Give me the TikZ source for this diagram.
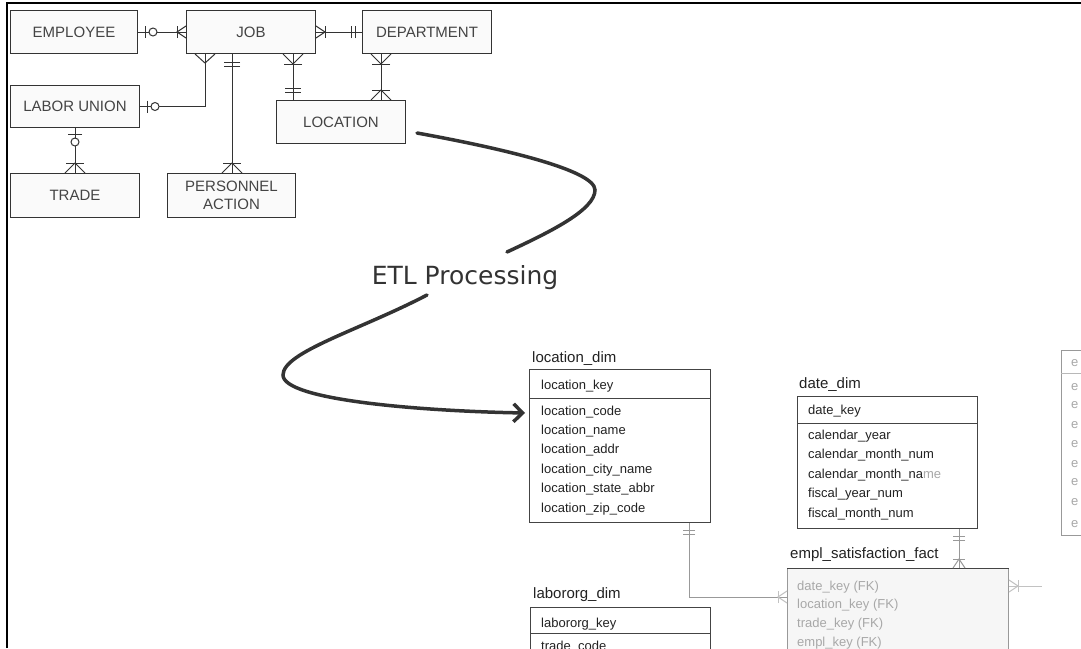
\documentclass[tikz,border=0pt]{standalone}
\usepackage{fontspec}
\setmainfont{Liberation Sans}
\newfontfamily\etlfont{DejaVu Sans}
\usetikzlibrary{arrows.meta,calc}
\definecolor{erline}{HTML}{333333}
\definecolor{ertext}{HTML}{444444}
\definecolor{erfill}{HTML}{FAFAFA}
\definecolor{dimline}{HTML}{444444}
\definecolor{dimtext}{HTML}{222222}
\definecolor{fadeline}{HTML}{999999}
\definecolor{fadetext}{HTML}{A8A8A8}
\definecolor{fadefill}{HTML}{F6F6F6}
\definecolor{etlcol}{HTML}{333333}
\tikzset{
  erbox/.style={draw=erline, fill=erfill, line width=1pt, anchor=north west, inner sep=0pt,
    text=ertext, font=\fontsize{15}{19}\selectfont, align=center},
  erl/.style={color=erline, line width=1pt},
  grl/.style={color=fadeline, line width=1pt},
  fal/.style={color=fadeline!60, line width=1pt},
  crowbar/.pic={\draw (0,-6)--(9,0)--(0,6); \draw (9,-6)--(9,6);},
  crowbarwide/.pic={\draw (0,-10)--(10,0)--(0,10); \draw (10,-9)--(10,9);},
  crowonly/.pic={\draw (0,-10)--(9,0)--(0,10);},
  onebar/.pic={\draw (7,-6)--(7,6); \draw (11,-6)--(11,6);},
  onebarwide/.pic={\draw (8,-8)--(8,8); \draw (12,-8)--(12,8);},
  zeroone/.pic={\draw (7,-6)--(7,6); \draw[fill=white] (15,0) circle[radius=4pt];},
  zeroonewide/.pic={\draw (6,-7)--(6,7); \draw[fill=white] (14,0) circle[radius=4pt];},
  dimbox/.style={draw=dimline, fill=white, line width=1pt, anchor=north west, inner sep=0pt},
  fadebox/.style={draw=fadeline, fill=fadefill, line width=1pt, anchor=north west, inner sep=0pt},
  dimtitle/.style={anchor=base west, inner sep=0pt, text=dimtext, font=\fontsize{15}{18}\selectfont},
  rowtxt/.style={anchor=base west, inner sep=0pt, text=dimtext, font=\fontsize{13}{15}\selectfont},
  fadetxt/.style={anchor=base west, inner sep=0pt, text=fadetext, font=\fontsize{13}{15}\selectfont},
  etl/.style={color=etlcol, line width=3.5pt, line cap=round},
}
\begin{document}
\begin{tikzpicture}[x=1pt,y=-1pt]
\useasboundingbox (0,0) rectangle (1081,648);
\clip (0,0) rectangle (1081,648);
\fill[white] (0,0) rectangle (1081,648);

% frame
\draw[line width=2pt, black] (7,648) -- (7,3) -- (1081,3);

% ER entities
\node[erbox, minimum width=127pt, minimum height=43pt] (emp) at (10,10) {EMPLOYEE};
\node[erbox, minimum width=129pt, minimum height=43pt] (job) at (186,10) {JOB};
\node[erbox, minimum width=129pt, minimum height=43pt] (dept) at (362,10) {DEPARTMENT};
\node[erbox, minimum width=129pt, minimum height=42pt] (lu) at (10,85) {LABOR UNION};
\node[erbox, minimum width=129pt, minimum height=44pt] (trade) at (10,173) {TRADE};
\node[erbox, minimum width=128pt, minimum height=44pt] (pa) at (167,173) {PERSONNEL\\[-1pt]ACTION};
\node[erbox, minimum width=129pt, minimum height=43pt] (loc) at (276,100) {LOCATION};

% ER relationships
\draw[erl] (emp.east) -- (job.west);
\pic[erl] at (emp.east) {zeroone};
\pic[erl, rotate=180] at (job.west) {crowbar};

\draw[erl] (job.east) -- (dept.west);
\pic[erl] at (job.east) {crowbar};
\pic[erl, rotate=180] at (dept.west) {onebar};

\draw[erl] ([xshift=19pt]job.south west) |- (lu.east);
\pic[erl, rotate=-90] at ([xshift=19pt]job.south west) {crowonly};
\pic[erl] at (lu.east) {zeroone};

\draw[erl] ([xshift=46pt]job.south west) -- ([xshift=65pt]pa.north west);
\pic[erl, rotate=-90] at ([xshift=46pt]job.south west) {onebarwide};
\pic[erl, rotate=90] at ([xshift=65pt]pa.north west) {crowbarwide};

\draw[erl] ([xshift=107pt]job.south west) -- ([xshift=17pt]loc.north west);
\pic[erl, rotate=-90] at ([xshift=107pt]job.south west) {crowbarwide};
\pic[erl, rotate=90] at ([xshift=17pt]loc.north west) {onebarwide};

\draw[erl] ([xshift=19pt]dept.south west) -- ([xshift=105pt]loc.north west);
\pic[erl, rotate=-90] at ([xshift=19pt]dept.south west) {crowbarwide};
\pic[erl, rotate=90] at ([xshift=105pt]loc.north west) {crowbarwide};

\draw[erl] (lu.south) -- (trade.north);
\pic[erl, rotate=-90] at (lu.south) {zeroonewide};
\pic[erl, rotate=90] at (trade.north) {crowbarwide};

% location_dim
\node[dimtitle] (locT) at (532,362.5) {location\_dim};
\node[dimbox, minimum width=181pt, minimum height=153pt] (locdim) at (529,369) {};
\draw[dimline, line width=0.8pt] (locdim.west |- 0,398) -- (locdim.east |- 0,398);
\node[rowtxt] (l0) at (541,389) {location\_key};
\node[rowtxt] (l1) at (541,415) {location\_code};
\node[rowtxt] (l2) at (541,434.4) {location\_name};
\node[rowtxt] (l3) at (541,453.8) {location\_addr};
\node[rowtxt] (l4) at (541,473.2) {location\_city\_name};
\node[rowtxt] (l5) at (541,492.6) {location\_state\_abbr};
\node[rowtxt] (l6) at (541,512) {location\_zip\_code};

% labororg_dim
\node[dimtitle] (labT) at (533,598.5) {labororg\_dim};
\node[dimbox, minimum width=180pt, minimum height=80pt] (labdim) at (530,607) {};
\draw[dimline, line width=0.8pt] (labdim.west |- 0,633) -- (labdim.east |- 0,633);
\node[rowtxt] (b0) at (541,627) {labororg\_key};
\node[rowtxt] (b1) at (541,650) {trade\_code};

% date_dim
\node[dimtitle] (dateT) at (799,388.5) {date\_dim};
\node[dimbox, minimum width=180pt, minimum height=132pt] (datedim) at (797,396) {};
\draw[dimline, line width=0.8pt] (datedim.west |- 0,423) -- (datedim.east |- 0,423);
\node[rowtxt] (d0) at (808,414) {date\_key};
\node[rowtxt] (d1) at (808,439) {calendar\_year};
\node[rowtxt] (d2) at (808,458.5) {calendar\_month\_num};
\node[rowtxt] (d3) at (808,478) {calendar\_month\_na{\color{fadetext}me}};
\node[rowtxt] (d4) at (808,497.5) {fiscal\_year\_num};
\node[rowtxt] (d5) at (808,517) {fiscal\_month\_num};

% empl_satisfaction_fact
\node[dimtitle] (factT) at (790,558.5) {empl\_satisfaction\_fact};
\node[fadebox, minimum width=221pt, minimum height=110pt] (fact) at (787,568) {};
\draw[dimline, line width=1pt] (fact.north west) -- (fact.north east);
\node[fadetxt] (f0) at (797,590) {date\_key (FK)};
\node[fadetxt] (f1) at (797,608.5) {location\_key (FK)};
\node[fadetxt] (f2) at (797,627) {trade\_key (FK)};
\node[fadetxt] (f3) at (797,646) {empl\_key (FK)};

% partial table at right edge
\node[draw=fadeline, fill=white, line width=1pt, anchor=north west, inner sep=0pt,
      minimum width=60pt, minimum height=185pt] (ptab) at (1061,350) {};
\draw[fadeline!70, line width=0.8pt] (ptab.west |- 0,373) -- (ptab.east |- 0,373);
\foreach \yy [count=\i] in {366,390,408.5,428,447,467,485.5,505,527}
  \node[fadetxt] (pe\i) at (1071,\yy) {e};

% dimensional relationships
\draw[grl] ([xshift=160pt]locdim.south west) |- ([yshift=-29pt]fact.north west);
\pic[grl, rotate=-90] at ([xshift=160pt]locdim.south west) {onebar};
\pic[fal, rotate=180] at ([yshift=-29pt]fact.north west) {crowbar};

\draw[grl] ([xshift=162pt]datedim.south west) -- ([xshift=172pt]fact.north west);
\pic[grl, rotate=-90] at ([xshift=162pt]datedim.south west) {onebar};
\pic[grl, rotate=90] at ([xshift=172pt]fact.north west) {crowbar};

\coordinate (fe) at (1042,586);
\draw[fal] ([yshift=-18pt]fact.north east) -- (fe);
\pic[fal] at ([yshift=-18pt]fact.north east) {crowbar};

% ETL processing arrow
\coordinate (etlA) at (417,133);
\coordinate (etlB) at (507,252);
\coordinate (etlC) at (427,295);
\node[font=\etlfont\fontsize{25}{30}\selectfont, text=etlcol, inner sep=0pt] (etl) at (465,278) {ETL Processing};
\draw[etl] (etlA) .. controls (500,148) and (595,170) .. (595,190)
                  .. controls (595,210) and (550,232) .. (etlB);
\draw[etl, -{Straight Barb[length=9pt,width=18pt]}] (etlC) .. controls (360,330) and (283,352) .. (283,375)
                  .. controls (283,400) and (420,411) .. ([xshift=-4pt,yshift=-44pt]locdim.north west);
\end{tikzpicture}
\end{document}
